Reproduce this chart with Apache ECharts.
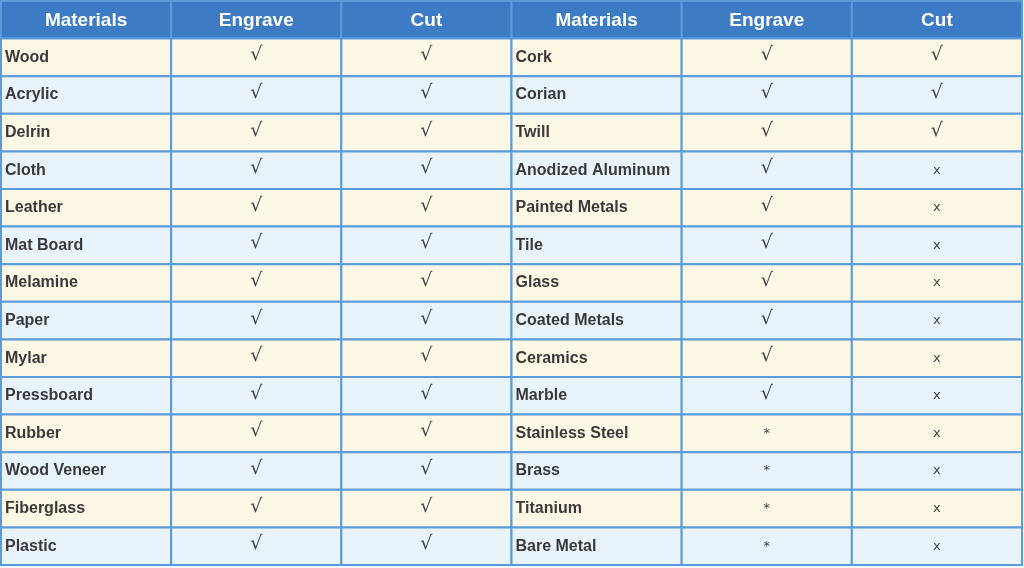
<!DOCTYPE html>
<html><head><meta charset="utf-8">
<script src="https://cdn.jsdelivr.net/npm/echarts@6/dist/echarts.min.js"></script>
<style>html,body{margin:0;background:#fff}#main{width:1024px;height:568px}</style>
</head><body><div id="main"></div>
<script>
var headers = ['Materials','Engrave','Cut','Materials','Engrave','Cut'];
var materialsLeft = ['Wood','Acrylic','Delrin','Cloth','Leather','Mat Board','Melamine','Paper','Mylar','Pressboard','Rubber','Wood Veneer','Fiberglass','Plastic'];
var engraveLeft = ['√','√','√','√','√','√','√','√','√','√','√','√','√','√'];
var cutLeft = ['√','√','√','√','√','√','√','√','√','√','√','√','√','√'];
var materialsRight = ['Cork','Corian','Twill','Anodized Aluminum','Painted Metals','Tile','Glass','Coated Metals','Ceramics','Marble','Stainless Steel','Brass','Titanium','Bare Metal'];
var engraveRight = ['√','√','√','√','√','√','√','√','√','√','*','*','*','*'];
var cutRight = ['√','√','√','X','X','X','X','X','X','X','X','X','X','X'];

var columns = [materialsLeft, engraveLeft, cutLeft, materialsRight, engraveRight, cutRight];
var rowIds = ['h'];
for (var r = 0; r < materialsLeft.length; r++) rowIds.push('r' + r);

var cells = [];
for (var c = 0; c < 6; c++) {
  cells.push([c, 0, headers[c], 'head']);
  for (var r = 0; r < columns[c].length; r++) {
    cells.push([c, r + 1, columns[c][r], (c % 3 === 0) ? 'name' : 'mark']);
  }
}

function renderCell(params, api) {
  var c = api.value(0), r = api.value(1);
  var p = api.coord([c, r]);
  var s = api.size([1, 1]);
  var x = p[0] - s[0] / 2, y = p[1] - s[1] / 2;
  var kind = cells[params.dataIndex][3];
  var txt = cells[params.dataIndex][2];
  var fill = kind === 'head' ? '#3d7cc4' : (r % 2 === 1 ? '#fdf7e6' : '#e8f3fc');
  var style;
  if (kind === 'head') {
    style = {x: p[0], y: p[1] + 1, text: txt, fill: '#fff', font: 'bold 19px "Liberation Sans", Arial', align: 'center', verticalAlign: 'middle'};
  } else if (kind === 'name') {
    style = {x: x + 4, y: p[1], text: txt, fill: '#3a3a3a', font: 'bold 16px "Liberation Sans", Arial', align: 'left', verticalAlign: 'middle'};
  } else {
    var small = txt !== '√';
    style = {x: p[0], y: p[1] + (small ? 0 : -2), text: small ? txt.toLowerCase() : txt, fill: '#444',
      font: (small ? '13px' : '19px') + ' "DejaVu Sans", sans-serif', align: 'center', verticalAlign: 'middle'};
  }
  return {type: 'group', children: [
    {type: 'rect', shape: {x: x, y: y, width: s[0], height: s[1]}, style: {fill: fill, stroke: '#5b9bdc', lineWidth: 2}},
    {type: 'text', style: style}
  ]};
}

var chart = echarts.init(document.getElementById('main'));
chart.setOption({
  animation: false,
  grid: {left: 1, right: 2, top: 1, bottom: 3},
  xAxis: {type: 'category', data: headers.map(function (h, i) { return i; }), show: false},
  yAxis: {type: 'category', data: rowIds, inverse: true, show: false},
  series: [{type: 'custom', renderItem: renderCell, data: cells}]
});
</script></body></html>
